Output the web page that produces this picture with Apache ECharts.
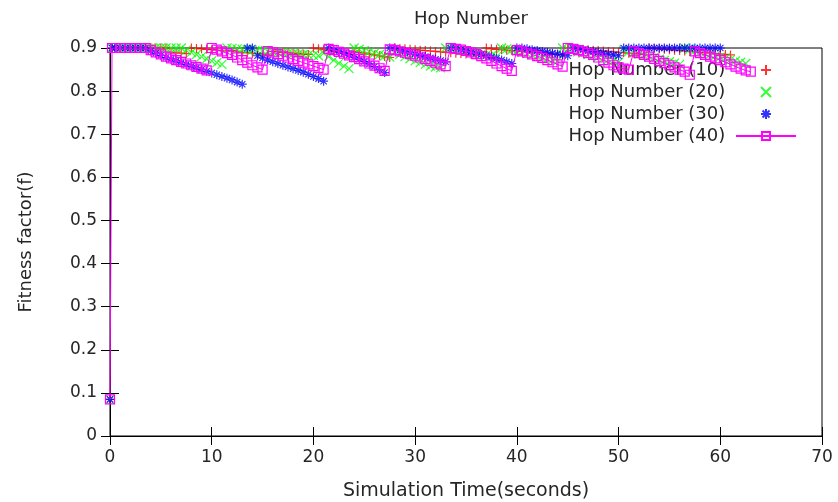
<!DOCTYPE html>
<html>
<head>
<meta charset="utf-8">
<script src="https://cdn.jsdelivr.net/npm/echarts@6/dist/echarts.min.js"></script>
<style>html,body{margin:0;padding:0;background:#fff;}#c{width:838px;height:502px;}</style>
</head>
<body>
<div id="c"></div>
<script>
// Simulation time (seconds)
var time = [0,0.2,0.5,1,1.5,2,2.5,3,3.5,4,4.5,5,5.5,6,6.5,7,7.5,8,8.5,9,9.5,10,10.5,11,11.5,12,12.5,13,13.5,14,14.5,15,15.5,16,16.5,17,17.5,18,18.5,19,19.5,20,20.5,21,21.5,22,22.5,23,23.5,24,24.5,25,25.5,26,26.5,27,27.5,28,28.5,29,29.5,30,30.5,31,31.5,32,32.5,33,33.5,34,34.5,35,35.5,36,36.5,37,37.5,38,38.5,39,39.5,40,40.5,41,41.5,42,42.5,43,43.5,44,44.5,45,45.5,46,46.5,47,47.5,48,48.5,49,49.5,50,50.5,51,51.5,52,52.5,53,53.5,54,54.5,55,55.5,56,56.5,57,57.5,58,58.5,59,59.5,60,60.5,61,61.5,62,62.5,63];

// Hop Number (10)
var hop10 = [0.085,0.9,
 0.9,0.9,0.9,0.9,0.9,0.9,0.9,0.9,0.9,0.9,0.9,
 0.89,0.889,0.888,0.887,
 0.9,0.899,0.898,0.897,0.896,0.895,0.894,0.893,0.892,0.891,0.89,0.889,0.888,0.887,0.886,0.885,
 0.892,0.891,0.89,0.889,0.888,0.887,0.886,0.885,
 0.9,0.898,0.896,0.894,0.892,0.89,0.888,0.886,
 0.892,0.89,0.888,0.886,0.884,0.882,0.88,0.878,
 0.9,0.899,0.898,0.897,0.896,0.895,0.894,0.893,0.892,0.891,0.89,0.889,0.888,0.887,0.886,0.885,0.884,0.883,
 0.9,0.898,0.897,0.896,0.895,0.894,0.893,0.892,0.891,0.89,0.889,0.888,0.887,0.886,0.885,0.884,
 0.9,0.899,0.898,0.897,0.896,0.895,0.894,0.893,0.892,0.891,0.89,0.889,0.888,0.887,0.886,0.885,
 0.9,0.899,0.898,0.897,0.896,0.895,0.894,0.893,0.892,0.891,0.89,0.889,0.888,0.887,0.886,0.885,0.884];

// Hop Number (20)
var hop20 = [0.085,0.9,
 0.9,0.9,0.9,0.9,0.9,0.9,0.9,0.9,0.9,0.9,0.9,0.9,0.9,0.9,
 0.895,0.89,0.885,0.88,0.875,0.87,0.866,0.862,
 0.9,0.899,0.898,0.897,0.896,0.895,0.894,0.893,0.892,0.891,0.89,0.889,0.888,0.887,0.886,0.885,0.884,0.883,0.882,
 0.888,0.88,0.872,0.865,0.858,0.852,
 0.9,0.897,0.894,0.891,0.888,0.885,0.882,0.879,
 0.89,0.885,0.88,0.875,0.87,0.866,0.862,0.858,0.856,0.854,
 0.9,0.898,0.896,0.894,0.892,0.89,0.888,0.886,0.884,0.882,0.88,
 0.9,0.898,0.896,0.893,0.89,0.887,0.884,0.881,0.878,0.875,0.872,0.87,
 0.9,0.897,0.894,0.891,0.888,0.885,0.882,0.879,0.876,0.873,0.87,0.867,
 0.895,0.892,0.889,0.886,0.883,0.88,0.877,0.874,0.871,0.868,0.865,0.862,
 0.9,0.897,0.894,0.891,0.888,0.885,0.882,0.879,0.876,0.873,0.87,0.867,0.864];

// Hop Number (30)
var hop30 = [0.085,0.9,
 0.9,0.9,0.9,0.9,0.9,0.9,0.9,
 0.893,0.888,0.883,0.878,0.874,0.87,0.866,0.862,0.858,0.854,0.85,0.846,
 0.842,0.838,0.834,0.83,0.826,0.821,0.816,
 0.9,0.9,0.882,0.877,0.872,0.868,0.864,0.86,0.856,0.852,0.848,0.844,0.839,0.834,0.829,0.823,
 0.9,0.896,0.892,0.888,0.884,0.879,0.874,0.869,0.863,0.857,0.85,0.843,
 0.9,0.9,0.895,0.892,0.889,0.886,0.883,0.88,0.877,0.874,0.871,0.868,
 0.9,0.9,0.897,0.894,0.891,0.888,0.885,0.882,0.879,0.876,0.872,0.868,0.864,
 0.9,0.9,0.898,0.896,0.894,0.892,0.89,0.888,0.886,0.884,0.882,
 0.9,0.898,0.896,0.894,0.892,0.89,0.888,0.886,0.884,0.882,
 0.9,0.9,0.9,0.9,0.9,0.9,0.9,0.9,0.9,0.9,0.9,0.9,0.9,0.9,0.9,0.9,0.9,0.9,0.9,0.9];

// Hop Number (40)
var hop40 = [0.085,0.9,
 0.9,0.9,0.9,0.9,0.9,0.9,0.9,
 0.895,0.89,0.885,0.88,0.876,0.872,0.868,0.864,0.86,0.856,0.852,0.848,
 0.9,0.896,0.892,0.888,0.884,0.878,0.872,0.866,0.86,0.855,0.85,
 0.893,0.89,0.886,0.882,0.878,0.874,0.87,0.866,0.862,0.858,0.854,0.85,
 0.898,0.895,0.891,0.887,0.883,0.879,0.874,0.869,0.864,0.859,0.853,0.847,
 0.897,0.895,0.892,0.889,0.886,0.882,0.878,0.874,0.87,0.866,0.862,0.858,
 0.9,0.898,0.896,0.893,0.89,0.886,0.881,0.876,0.87,0.864,0.858,0.852,0.847,
 0.895,0.892,0.889,0.885,0.881,0.877,0.872,0.867,0.862,0.857,
 0.9,0.898,0.895,0.892,0.888,0.884,0.878,0.872,0.866,0.86,0.855,0.852,0.85,
 0.892,0.888,0.884,0.88,0.875,0.87,0.865,0.86,0.855,0.85,0.845,0.838,
 0.892,0.888,0.884,0.88,0.876,0.872,0.867,0.862,0.857,0.852,0.848,0.845];

var seriesNames = ['Hop Number (10)','Hop Number (20)','Hop Number (30)','Hop Number (40)'];
var xTicks = {min: 0, max: 70, interval: 10};
var yTicks = {min: 0, max: 0.9, interval: 0.1};

function pairs(vals){ return vals.map(function(v,i){ return [time[i], v]; }); }

var FONT = 'DejaVu Sans';
var TXT = '#262626';
var axisLine = {show: true, lineStyle: {color: '#000', width: 1}};
var tick = {show: true, inside: true, length: 9, lineStyle: {color: '#000', width: 1}};

var chart = echarts.init(document.getElementById('c'), null, {renderer: 'canvas'});
chart.setOption({
  animation: false,
  backgroundColor: '#fff',
  title: {text: 'Hop Number', left: 466, top: 5, textAlign: 'center',
    textStyle: {fontFamily: FONT, fontSize: 18, fontWeight: 'normal', color: TXT}},
  grid: {left: 110, right: 16, top: 48, bottom: 66, show: true, borderColor: '#000', borderWidth: 1,
    containLabel: false, outerBoundsMode: 'none'},
  legend: {
    orient: 'vertical', right: 36, top: 56, align: 'right', itemWidth: 60, itemHeight: 10, itemGap: 4,
    textStyle: {fontFamily: FONT, fontSize: 18, color: TXT},
    formatter: function(n){ return n + ' '; },
    data: seriesNames, selectedMode: false
  },
  xAxis: [
    {type: 'value', position: 'bottom', min: xTicks.min, max: xTicks.max, interval: xTicks.interval,
     axisLine: axisLine, axisTick: tick, splitLine: {show: false},
     axisLabel: {margin: 13, fontFamily: FONT, fontSize: 17, color: TXT},
     name: 'Simulation Time(seconds)', nameLocation: 'middle', nameGap: 46,
     nameTextStyle: {fontFamily: FONT, fontSize: 19, color: TXT}},
    {type: 'value', position: 'top', min: xTicks.min, max: xTicks.max, interval: xTicks.interval,
     axisLine: axisLine, axisTick: tick, splitLine: {show: false}, axisLabel: {show: false}}
  ],
  yAxis: [
    {type: 'value', position: 'left', min: yTicks.min, max: yTicks.max, interval: yTicks.interval,
     axisLine: axisLine, axisTick: tick, splitLine: {show: false},
     axisLabel: {margin: 13, fontFamily: FONT, fontSize: 17, color: TXT},
     name: 'Fitness factor(f)', nameLocation: 'middle', nameGap: 75,
     nameTextStyle: {fontFamily: FONT, fontSize: 18, color: TXT}},
    {type: 'value', position: 'right', min: yTicks.min, max: yTicks.max, interval: yTicks.interval,
     axisLine: axisLine, axisTick: tick, splitLine: {show: false}, axisLabel: {show: false}}
  ],
  series: [
    {name: seriesNames[0], type: 'scatter', data: pairs(hop10), symbol: 'path://M0,5L10,5M5,0L5,10', symbolSize: 9,
     itemStyle: {color: 'rgba(0,0,0,0)', borderColor: '#ff0000', borderWidth: 1.2}, silent: true, z: 2},
    {name: seriesNames[1], type: 'scatter', data: pairs(hop20), symbol: 'path://M0,0L10,10M10,0L0,10', symbolSize: 9,
     itemStyle: {color: 'rgba(0,0,0,0)', borderColor: '#00ff00', borderWidth: 1.2}, silent: true, z: 3},
    {name: seriesNames[2], type: 'scatter', data: pairs(hop30), symbol: 'path://M0,5L10,5M5,0L5,10M1.5,1.5L8.5,8.5M8.5,1.5L1.5,8.5', symbolSize: 9,
     itemStyle: {color: 'rgba(0,0,0,0)', borderColor: '#0000ff', borderWidth: 1.2}, silent: true, z: 4},
    {name: seriesNames[3], type: 'line', data: pairs(hop40), symbol: 'rect', symbolSize: 9, showSymbol: true, showAllSymbol: true,
     lineStyle: {color: '#ff00ff', width: 1}, itemStyle: {color: 'rgba(0,0,0,0)', borderColor: '#ff00ff', borderWidth: 1.2},
     silent: true, z: 5}
  ]
});
</script>
</body>
</html>
